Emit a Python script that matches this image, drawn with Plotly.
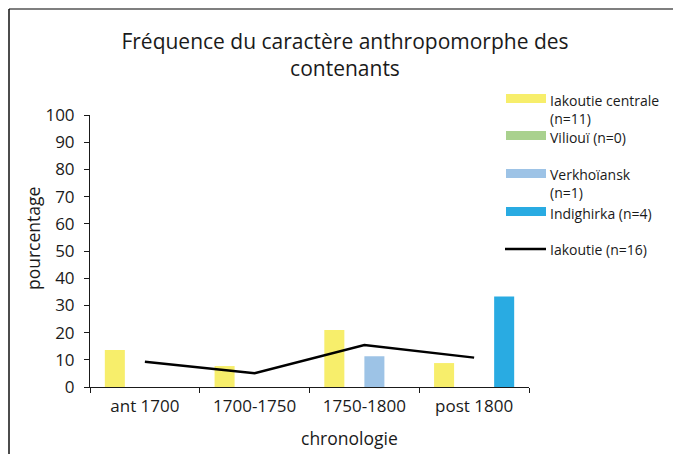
import plotly.graph_objects as go

categories = ["ant 1700", "1700-1750", "1750-1800", "post 1800"]
iakoutie_centrale = [13.6, 7.7, 21.0, 8.8]
viliouï = [None, None, None, None]
verkhoiansk = [None, None, 11.3, None]
indighirka = [None, None, None, 33.3]
iakoutie = [9.3, 5.1, 15.4, 10.8]
y_ticks = [0, 10, 20, 30, 40, 50, 60, 70, 80, 90, 100]

series_names = ["Iakoutie centrale<br>(n=11)", "Viliouï (n=0)", "Verkhoïansk<br>(n=1)", "Indighirka (n=4)"]
colors = ["#F7EE6B", "#A9D18E", "#9DC3E6", "#29ABE2"]
line_name = "Iakoutie (n=16)"

# page is rendered with an 8px body margin: work in page pixels and offset
OFF = 8
PW, PH = 681, 454
W, H = PW - OFF, PH - OFF
L, R, T, B = 90 - OFF, PW - 529, 115 - OFF, PH - 387
pw, ph = W - L - R, H - T - B

def px(x):
    return (x - OFF - L) / pw

def py(y):
    return (H - B - (y - OFF)) / ph

FONT = "Open Sans"
TXT = "#1a1a1a"
LEG_SIZE = 14

fig = go.Figure()
for name, vals, col in zip(series_names, [iakoutie_centrale, viliouï, verkhoiansk, indighirka], colors):
    fig.add_trace(go.Bar(x=categories, y=vals, name=name, marker=dict(color=col, line=dict(width=0)),
                         showlegend=False))
fig.add_trace(go.Scatter(x=categories, y=iakoutie, mode="lines", name=line_name,
                         line=dict(color="black", width=2.5), showlegend=False))

shapes = []
annotations = []
# outer frame
shapes.append(dict(type="line", xref="paper", yref="paper", x0=px(9), x1=px(700), y0=py(9), y1=py(9),
                   line=dict(color="#555555", width=1.5)))
shapes.append(dict(type="line", xref="paper", yref="paper", x0=px(9), x1=px(9), y0=py(9), y1=py(470),
                   line=dict(color="#111111", width=1.5)))

# legend
leg_y = [98.5, 135.5, 173.5, 211.5]
text_y = [109.5, 137, 183, 213]
for name, col, sy, ty in zip(series_names, colors, leg_y, text_y):
    shapes.append(dict(type="rect", xref="paper", yref="paper", x0=px(506), x1=px(546),
                       y0=py(sy - 4.5), y1=py(sy + 4.5), fillcolor=col, line=dict(width=0)))
    annotations.append(dict(text=name, xref="paper", yref="paper", x=px(548), y=py(ty),
                            xanchor="left", yanchor="middle", align="left", showarrow=False,
                            font=dict(family=FONT, size=LEG_SIZE, color=TXT)))
shapes.append(dict(type="line", xref="paper", yref="paper", x0=px(505), x1=px(546), y0=py(249), y1=py(249),
                   line=dict(color="black", width=2.5)))
annotations.append(dict(text=line_name, xref="paper", yref="paper", x=px(548), y=py(249),
                        xanchor="left", yanchor="middle", showarrow=False,
                        font=dict(family=FONT, size=LEG_SIZE, color=TXT)))

# axis titles
annotations.append(dict(text="chronologie", xref="paper", yref="paper", x=px(349), y=py(438),
                        xanchor="center", yanchor="middle", showarrow=False,
                        font=dict(family=FONT, size=17.5, color=TXT)))
annotations.append(dict(text="pourcentage", xref="paper", yref="paper", x=px(33), y=py(238),
                        xanchor="center", yanchor="middle", showarrow=False, textangle=-90,
                        font=dict(family=FONT, size=17.5, color=TXT)))

fig.update_layout(
    width=W, height=H,
    margin=dict(l=L, r=R, t=T, b=B),
    paper_bgcolor="white", plot_bgcolor="white",
    barmode="group", bargap=0.27, bargroupgap=0,
    title=dict(text="Fréquence du caractère anthropomorphe des<br>contenants", x=(345 - OFF) / W,
               xanchor="center", y=1 - (48.5 - OFF) / H, yanchor="middle",
               font=dict(family=FONT, size=21, color=TXT)),
    shapes=shapes, annotations=annotations,
    font=dict(family=FONT, color=TXT),
)
fig.update_xaxes(showline=True, linecolor=TXT, linewidth=1, ticks="outside", ticklen=5,
                 tickcolor=TXT, tickson="boundaries", showgrid=False, ticklabelstandoff=4,
                 tickfont=dict(family=FONT, size=17, color=TXT))
fig.update_yaxes(range=[0, 100], tickvals=y_ticks, showline=True, linecolor=TXT, linewidth=1,
                 ticks="outside", ticklen=5, tickcolor=TXT, showgrid=False, zeroline=False,
                 ticklabelstandoff=6, tickfont=dict(family=FONT, size=17, color=TXT))

fig.write_html("out.html")
